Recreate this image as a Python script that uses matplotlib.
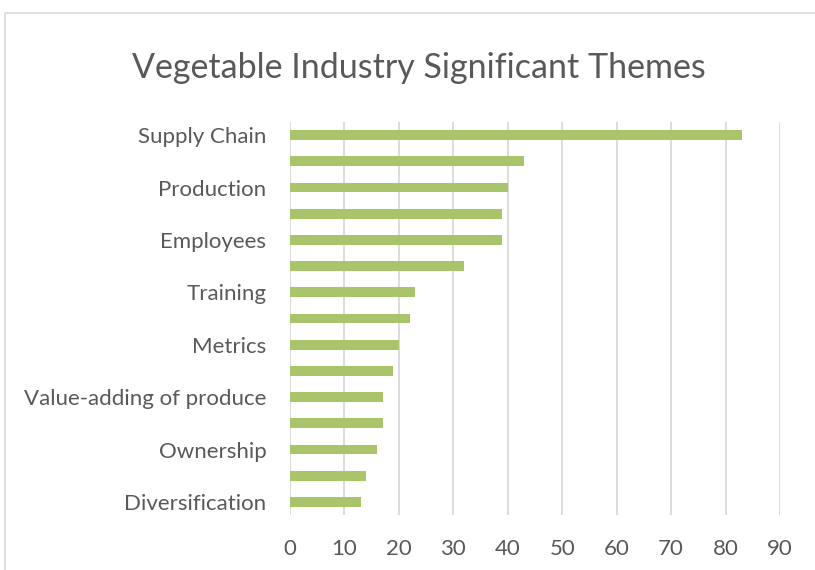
import matplotlib.pyplot as plt
from matplotlib.patches import Rectangle

# themes, top to bottom (every other label is hidden in the original)
themes = ["Supply Chain", "", "Production", "", "Employees", "",
          "Training", "", "Metrics", "", "Value-adding of produce", "",
          "Ownership", "", "Diversification"]
counts = [83, 43, 40, 39, 39, 32, 23, 22, 20, 19, 17, 17, 16, 14, 13]
x_ticks = [0, 10, 20, 30, 40, 50, 60, 70, 80, 90]

TEXT = "#595959"
GRID = "#d9d9d9"
BAR = "#a9c46b"

plt.rcParams["font.family"] = ["Lato", "DejaVu Sans"]

fig = plt.figure(figsize=(8.15, 5.7), dpi=100)
fig.patches.append(Rectangle((5 / 815, -0.1), 1.0, 1 - 13 / 570 + 0.1,
                             transform=fig.transFigure, fill=False,
                             edgecolor=GRID, linewidth=1.2))

ax = fig.add_axes([290 / 815, 1 - 515 / 570, 490 / 815, 393 / 570])
pos = list(range(len(counts)))
ax.barh(pos, counts, height=0.38, color=BAR, zorder=3)

ax.set_xlim(0, 90)
ax.set_ylim(len(counts) - 0.5, -0.5)
ax.set_xticks(x_ticks)
ax.set_yticks(pos)
ax.set_yticklabels(themes)
ax.xaxis.grid(True, color=GRID, linewidth=1.3, zorder=0)
ax.tick_params(axis="both", length=0, labelsize=16, colors=TEXT)
ax.tick_params(axis="x", pad=17)
ax.tick_params(axis="y", pad=17)
for s in ax.spines.values():
    s.set_visible(False)

fig.text(419 / 815, 1 - 68 / 570, "Vegetable Industry Significant Themes",
         ha="center", va="center", fontsize=24.5, color=TEXT)

fig.savefig("out.png", dpi=100)
